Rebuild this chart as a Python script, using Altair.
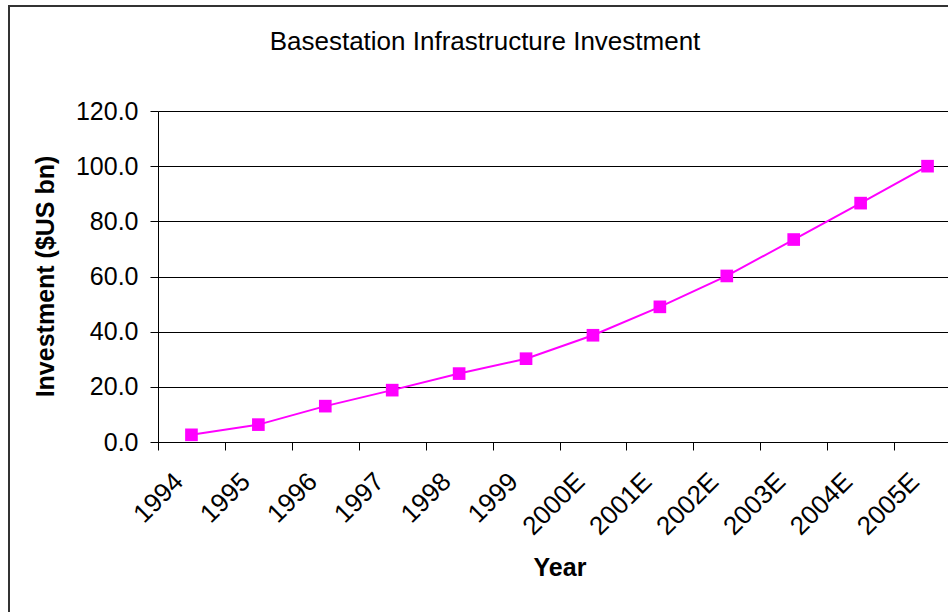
import altair as alt
import pandas as pd

years = ["1994", "1995", "1996", "1997", "1998", "1999",
         "2000E", "2001E", "2002E", "2003E", "2004E", "2005E"]
investment = [2.6, 6.3, 13.0, 18.8, 24.8, 30.2, 38.7, 49.0, 60.2, 73.4, 86.6, 100.0]
y_ticks = [0, 20, 40, 60, 80, 100, 120]

df = pd.DataFrame({"Year": years, "Investment": investment})

FONT = "Liberation Sans"
MAGENTA = "#FF00FF"

x_enc = alt.X(
    "Year:N", sort=years, title="Year",
    scale=alt.Scale(range=[0, 803], paddingInner=0, paddingOuter=0),
    axis=alt.Axis(
        labelAngle=-45, labelFontSize=26, labelFont=FONT, labelColor="black",
        labelPadding=18, labelOffset=-22, tickBand="extent", tickSize=8,
        tickColor="black", domainColor="black", grid=False,
        titleFont=FONT, titleFontSize=25, titleFontWeight="bold",
        titleColor="black", titleY=125, titleBaseline="middle",
    ),
)
y_enc = alt.Y(
    "Investment:Q", title="Investment ($US bn)",
    scale=alt.Scale(domain=[0, 120], nice=False, zero=True),
    axis=alt.Axis(
        values=y_ticks, format=".1f", labelFontSize=25, labelFont=FONT,
        labelColor="black", labelPadding=12, tickSize=8, tickColor="black",
        domainColor="black", gridColor="black", gridWidth=1, gridOpacity=1,
        titleFont=FONT, titleFontSize=25, titleFontWeight="bold",
        titleColor="black", titleAngle=-90, titleX=-113, titleY=165,
        titleBaseline="middle", titleAlign="center",
    ),
)

line = alt.Chart(df).mark_line(color=MAGENTA, strokeWidth=2).encode(x=x_enc, y=y_enc)
points = alt.Chart(df).mark_point(
    shape="square", filled=True, color=MAGENTA, size=160, opacity=1
).encode(x=x_enc, y=y_enc)

frame_df = pd.DataFrame({"k": [0]})
frame = alt.Chart(frame_df).mark_rect(
    fill=None, stroke="#333333", strokeWidth=2, clip=False
).encode(
    x=alt.value(-149), x2=alt.value(900), y=alt.value(-105), y2=alt.value(600)
)

chart = alt.layer(frame, line, points).properties(
    width=790, height=331,
    autosize=alt.AutoSizeParams(type="none"),
    padding={"left": 158, "top": 111, "right": 0, "bottom": 170},
    title=alt.TitleParams(
        "Basestation Infrastructure Investment", font=FONT, fontSize=26,
        fontWeight="normal", color="black", anchor="middle", dx=-68, offset=0,
        baseline="alphabetic", dy=71,
    ),
).configure_view(stroke=None).configure(background="white")

chart.save("out.html", embed_options={"renderer": "svg", "actions": False})
